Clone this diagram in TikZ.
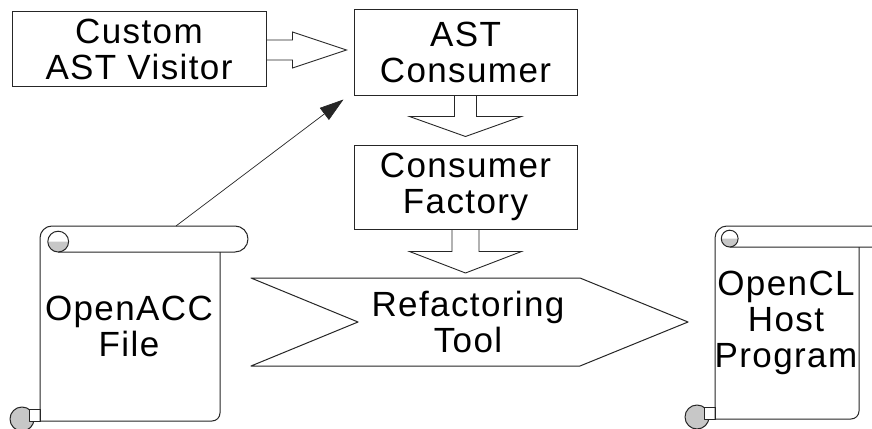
\documentclass[tikz,border=0pt]{standalone}
\usepackage{fontspec}
\newfontfamily\diagfont{Liberation Sans}[LetterSpace=4]
\usetikzlibrary{arrows.meta,calc}
\colorlet{lineGray}{black!85}
\colorlet{curlGray}{black!22}
\tikzset{
  >=Triangle,
  caption/.style={
    font=\diagfont\fontsize{35}{36}\selectfont,
    align=center,
    inner sep=0pt
  },
  box/.style={
    caption,
    draw=lineGray,
    line width=1pt,
    fill=white
  },
  sheet/.style={
    draw=lineGray,
    line width=1pt,
    line join=round
  },
  curl/.style={
    fill=curlGray
  },
  blockarrow/.style={
    draw=lineGray,
    line width=0.9pt,
    line join=miter
  },
  thinarrow/.style={
    -{Triangle[length=24pt,width=15pt]},
    draw=lineGray,
    line width=0.7pt
  }
}
% scroll sheet: left, top, bar bottom, bar end, body right, bottom
\newcommand{\scrollsheet}[6]{%
  \pgfmathsetmacro\barh{#3-#2}
  \pgfmathsetmacro\curlr{0.4*\barh}
  \pgfmathsetmacro\curlx{#1+0.7*\barh}
  \pgfmathsetmacro\curly{#3-\curlr}
  % bottom curl
  \filldraw[sheet,curl] ({#1-18},{#6-2}) circle[radius=12];
  \filldraw[sheet,fill=white] ({#1-11},{#6-12}) rectangle (#1,#6);
  % outline and top bar
  \draw[sheet] (#1,#6) -- (#1,{#2+12}) arc[start angle=180,end angle=270,radius=12]
    -- ({#4-\barh/2},#2) arc[start angle=-90,end angle=90,radius={\barh/2}]
    -- (\curlx,#3);
  \draw[sheet] (#5,#3) -- (#5,{#6-8}) arc[start angle=0,end angle=90,radius=8] -- (#1,#6);
  % top curl
  \fill[curl] ({\curlx-\curlr},\curly) arc[start angle=180,end angle=0,radius=\curlr] -- cycle;
  \draw[sheet] (\curlx,\curly) circle[radius=\curlr];
}
\begin{document}
\begin{tikzpicture}[x=1pt,y=-1pt]
\fill[white] (0,0) rectangle (872,428);
\clip (0,0) rectangle (872,428);

\node[box, minimum width=254pt, minimum height=74pt] (visitor) at (139,49) {Custom\\AST Visitor};
\node[box, minimum width=223pt, minimum height=85pt] (consumer) at (465.5,52.5) {AST\\Consumer};
\node[box, minimum width=223pt, minimum height=84pt] (factory) at (465.5,187) {Consumer\\Factory};

% refactoring tool chevron
\draw[sheet] (251,278) -- (580,278) -- (688,322) -- (580,366) -- (251,366) -- (358,322) -- cycle;
\node[caption] (tool) at (468,321.5) {Refactoring\\Tool};
\coordinate (tooltop) at (465.5,278);

% input and output files
\scrollsheet{40}{226}{252}{248}{220}{421}
\node[caption] (acc) at (129,326.5) {OpenACC\\File};
\coordinate (acctop) at (176,226);
\scrollsheet{715}{226}{247}{900}{859}{419}
\node[caption] (ocl) at (786,323) {OpenCL\\Host\\Program};

% block arrows
\draw[blockarrow] ($(visitor.east)+(0,-9)$) -- ++(26,0) -- ++(0,-8)
  -- ($(consumer.west)+(-7,-2.5)$) -- ($(visitor.east)+(26,19)$) -- ++(0,-8)
  -- ($(visitor.east)+(0,11)$);
\draw[blockarrow] ($(consumer.south)+(-11,0)$) -- ++(0,21) -- ++(-45,0)
  -- ($(factory.north)+(0,-8)$) -- ($(consumer.south)+(56,21)$) -- ++(-45,0)
  -- ($(consumer.south)+(11,0)$);
\draw[blockarrow] ($(factory.south)+(-13.5,0)$) -- ++(0,22) -- ++(-42.5,0)
  -- ($(tooltop)+(0,-5)$) -- ($(factory.south)+(56,22)$) -- ++(-42.5,0)
  -- ($(factory.south)+(13.5,0)$);

\draw[thinarrow] (acctop) -- ($(consumer.south west)+(-10,4)$);

\end{tikzpicture}
\end{document}
